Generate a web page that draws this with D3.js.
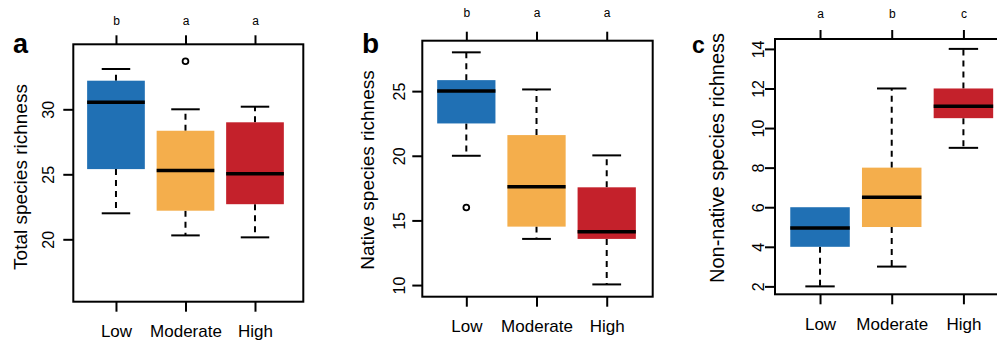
<!DOCTYPE html>
<html>
<head>
<meta charset="utf-8">
<script src="https://cdn.jsdelivr.net/npm/d3@7"></script>
<style>
  html, body { margin: 0; padding: 0; background: #fff; }
  svg { display: block; }
  text { font-family: "Liberation Sans", Arial, Helvetica, sans-serif; fill: #000; }
</style>
</head>
<body>
<svg id="fig" width="997" height="345"></svg>
<script>
// Disturbance levels shared by all three panels
const categories = ["Low", "Moderate", "High"];
const boxColors = ["#2070b4", "#f4ae4c", "#c4212b"];

// Box statistics per level: [lower whisker, Q1, median, Q3, upper whisker]
const totalStats = [
  [22.0, 25.4, 30.55, 32.2, 33.1],
  [20.3, 22.2, 25.3, 28.35, 30.0],
  [20.15, 22.7, 25.05, 29.0, 30.2]
];
const totalOutliers = [[], [33.7], []];
const totalLetters = ["b", "a", "a"];
const totalTicks = [20, 25, 30];

const nativeStats = [
  [20.0, 22.5, 25.0, 25.85, 28.0],
  [13.57, 14.52, 17.6, 21.6, 25.13],
  [10.05, 13.57, 14.13, 17.56, 20.03]
];
const nativeOutliers = [[16], [], []];
const nativeLetters = ["b", "a", "a"];
const nativeTicks = [10, 15, 20, 25];

const nonNativeStats = [
  [2.0, 4.0, 4.95, 6.0, 6.0],
  [3.0, 5.0, 6.5, 8.0, 12.0],
  [9.0, 10.5, 11.1, 12.0, 14.0]
];
const nonNativeOutliers = [[], [], []];
const nonNativeLetters = ["a", "b", "c"];
const nonNativeTicks = [2, 4, 6, 8, 10, 12, 14];

// Panel layout (frame in pixels, axis ranges in data units)
const panels = [
  { tag: "a", title: "Total species richness", stats: totalStats, outliers: totalOutliers,
    letters: totalLetters, ticks: totalTicks,
    left: 73.3, right: 303.3, top: 44.3, bottom: 301.7,
    yDomain: [15.2, 35.0], xDomain: [0.386, 3.695],
    tagX: 13, tagSize: 27, tickLabOff: 25, titleX: 20, titleSize: 19, titleCy: 177,
    letterY: 25, catY: 337 },
  { tag: "b", title: "Native species richness", stats: nativeStats, outliers: nativeOutliers,
    letters: nativeLetters, ticks: nativeTicks,
    left: 422.3, right: 652.7, top: 40.7, bottom: 296.7,
    yDomain: [9.1, 28.9], xDomain: [0.373, 3.655],
    tagX: 362, tagSize: 28, tickLabOff: 23, titleX: 367, titleSize: 19, titleCy: 170,
    letterY: 17, catY: 332 },
  { tag: "c", title: "Non-native species richness", stats: nonNativeStats, outliers: nonNativeOutliers,
    letters: nonNativeLetters, ticks: nonNativeTicks,
    left: 775, right: 1005, top: 39, bottom: 294.3,
    yDomain: [1.6, 14.5], xDomain: [0.372, 3.58],
    tagX: 692, tagSize: 23, tickLabOff: 17, titleX: 717, titleSize: 20, titleCy: 158,
    letterY: 18, catY: 330 }
];

const svg = d3.select("#fig");
const boxWex = 0.83, capWex = 0.41;
const idx = [1, 2, 3];

panels.forEach(p => {
  const x = d3.scaleLinear().domain(p.xDomain).range([p.left, p.right]);
  const y = d3.scaleLinear().domain(p.yDomain).range([p.bottom, p.top]);
  const g = svg.append("g");

  // boxes
  p.stats.forEach((s, i) => {
    const cx = x(idx[i]);
    const half = (x(idx[i] + boxWex / 2) - x(idx[i] - boxWex / 2)) / 2;
    const capHalf = (x(idx[i] + capWex / 2) - x(idx[i] - capWex / 2)) / 2;
    const [lo, q1, med, q3, hi] = s;

    // dashed whiskers from the box edges to the extremes, with solid caps
    [[q1, lo], [q3, hi]].forEach(([from, to]) => {
      if (from === to) return;
      g.append("line")
        .attr("x1", cx).attr("x2", cx)
        .attr("y1", y(from)).attr("y2", y(to))
        .attr("stroke", "#000").attr("stroke-width", 2)
        .attr("stroke-dasharray", "6,5");
      g.append("line")
        .attr("x1", cx - capHalf).attr("x2", cx + capHalf)
        .attr("y1", y(to)).attr("y2", y(to))
        .attr("stroke", "#000").attr("stroke-width", 2);
    });

    g.append("rect")
      .attr("x", cx - half).attr("width", 2 * half)
      .attr("y", y(q3)).attr("height", y(q1) - y(q3))
      .attr("fill", boxColors[i]);

    g.append("line")
      .attr("x1", cx - half).attr("x2", cx + half)
      .attr("y1", y(med)).attr("y2", y(med))
      .attr("stroke", "#000").attr("stroke-width", 3.5);

    p.outliers[i].forEach(v => {
      g.append("circle")
        .attr("cx", cx).attr("cy", y(v)).attr("r", 2.9)
        .attr("fill", "none").attr("stroke", "#000").attr("stroke-width", 1.8);
    });
  });

  // frame
  g.append("rect")
    .attr("x", p.left).attr("y", p.top)
    .attr("width", p.right - p.left).attr("height", p.bottom - p.top)
    .attr("fill", "none").attr("stroke", "#000").attr("stroke-width", 2);

  // left axis with vertical tick labels
  const ya = g.append("g")
    .attr("transform", `translate(${p.left},0)`)
    .call(d3.axisLeft(y).tickValues(p.ticks).tickSize(10).tickFormat(d3.format("d")));
  ya.select(".domain").remove();
  ya.selectAll(".tick line").attr("stroke", "#000").attr("stroke-width", 2);
  ya.selectAll(".tick text")
    .attr("x", null).attr("dy", "0.36em")
    .attr("transform", `translate(${-p.tickLabOff},0) rotate(-90)`)
    .attr("text-anchor", "middle")
    .style("font-size", "16px").attr("fill", "#000");

  // bottom axis with category names
  const xa = g.append("g")
    .attr("transform", `translate(0,${p.bottom})`)
    .call(d3.axisBottom(x).tickValues(idx).tickSize(10).tickFormat((d, i) => categories[i]));
  xa.select(".domain").remove();
  xa.selectAll(".tick line").attr("stroke", "#000").attr("stroke-width", 2);
  xa.selectAll(".tick text")
    .attr("y", p.catY - p.bottom).attr("dy", 0)
    .style("font-size", "17px").attr("fill", "#000");

  // top axis with significance letters
  const ta = g.append("g")
    .attr("transform", `translate(0,${p.top})`)
    .call(d3.axisTop(x).tickValues(idx).tickSize(9).tickFormat((d, i) => p.letters[i]));
  ta.select(".domain").remove();
  ta.selectAll(".tick line").attr("stroke", "#000").attr("stroke-width", 2);
  ta.selectAll(".tick text")
    .attr("y", p.letterY - p.top).attr("dy", 0)
    .style("font-size", "12px").attr("fill", "#000");

  // axis title
  g.append("text")
    .attr("transform", `translate(${p.titleX},${p.titleCy}) rotate(-90)`)
    .attr("dy", "0.36em")
    .attr("text-anchor", "middle")
    .style("font-size", p.titleSize + "px")
    .text(p.title);

  // panel tag
  g.append("text")
    .attr("x", p.tagX).attr("y", 53)
    .style("font-size", p.tagSize + "px").style("font-weight", "bold")
    .text(p.tag);
});
</script>
</body>
</html>
